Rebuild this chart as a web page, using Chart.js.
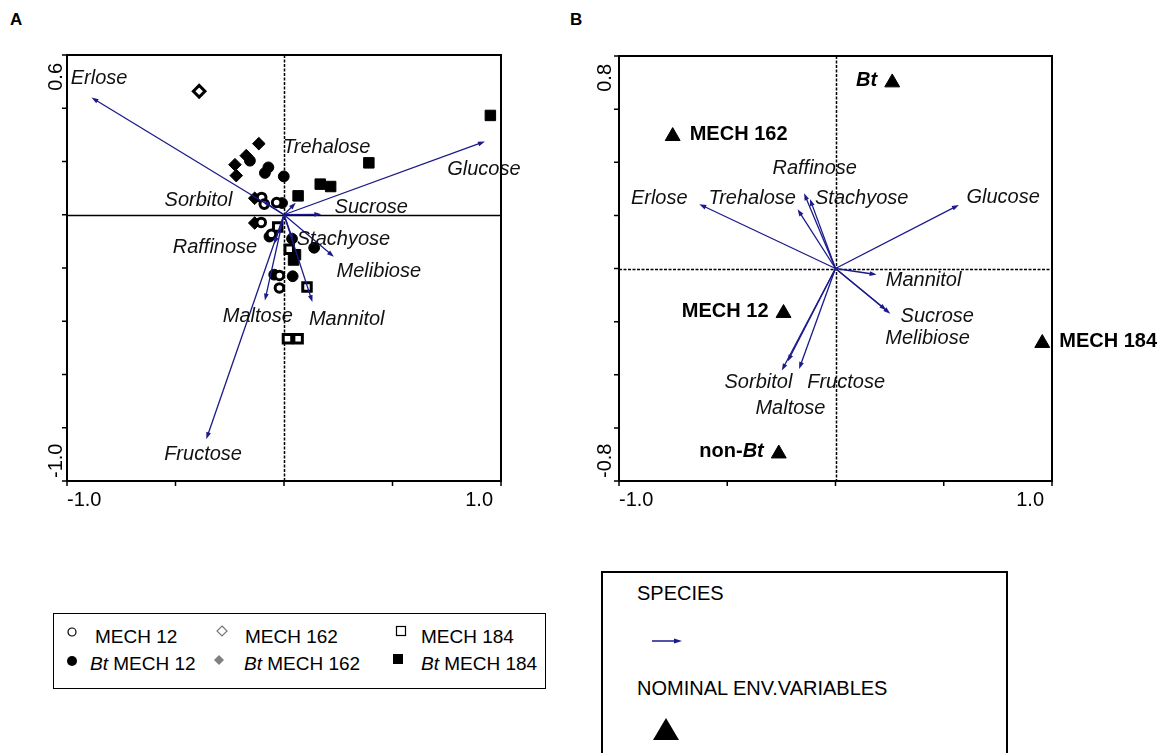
<!DOCTYPE html>
<html>
<head>
<meta charset="utf-8">
<script src="https://cdn.jsdelivr.net/npm/chart.js@4.4.1/dist/chart.umd.min.js"></script>
<style>
  html, body { margin: 0; padding: 0; background: #fff; }
  body { width: 1173px; height: 753px; position: relative; overflow: hidden;
         font-family: "Liberation Sans", Arial, sans-serif; color: #000; }
  .panel-tag { position: absolute; font-weight: bold; font-size: 17px; line-height: 20px; }
  .chart-wrap { position: absolute; }
  .chart-wrap canvas { display: block; }
  .legend-box { position: absolute; box-sizing: border-box; border: 1px solid #000; background: #fff; }
  .leg-item { position: absolute; white-space: nowrap; font-size: 19px; line-height: 22px; }
  .leg-sym { position: absolute; }
  .legend-b { border-width: 2px; }
  .legb-text { position: absolute; white-space: nowrap; font-size: 20px; line-height: 24px; }
</style>
</head>
<body>

<div class="panel-tag" style="left:10px; top:10px;">A</div>
<div class="panel-tag" style="left:570px; top:10px;">B</div>

<div class="chart-wrap" style="left:0; top:0; width:580px; height:540px;">
  <canvas id="chartA" width="580" height="540"></canvas>
</div>
<div class="chart-wrap" style="left:580px; top:0; width:593px; height:540px;">
  <canvas id="chartB" width="593" height="540"></canvas>
</div>

<!-- Legend for the sample symbols -->
<div class="legend-box" style="left:53px; top:613px; width:493px; height:76px;"></div>
<svg class="leg-sym" style="left:66px; top:626px;" width="12" height="12"><circle cx="6" cy="6" r="4" fill="#fff" stroke="#000" stroke-width="1.2"/></svg>
<div class="leg-item" style="left:95px; top:626px;">MECH 12</div>
<svg class="leg-sym" style="left:216px; top:625px;" width="12" height="12"><polygon points="6,1 11,6 6,11 1,6" fill="#fff" stroke="#777" stroke-width="1.2"/></svg>
<div class="leg-item" style="left:245px; top:626px;">MECH 162</div>
<svg class="leg-sym" style="left:395px; top:625px;" width="12" height="12"><rect x="1.5" y="1.5" width="9" height="9" fill="#fff" stroke="#000" stroke-width="1.2"/></svg>
<div class="leg-item" style="left:421px; top:626px;">MECH 184</div>

<svg class="leg-sym" style="left:66px; top:655px;" width="12" height="12"><circle cx="6" cy="6" r="5" fill="#000"/></svg>
<div class="leg-item" style="left:90px; top:653px;"><i>Bt</i> MECH 12</div>
<svg class="leg-sym" style="left:213px; top:654px;" width="12" height="12"><polygon points="6,1 11,6 6,11 1,6" fill="#808080"/></svg>
<div class="leg-item" style="left:244px; top:653px;"><i>Bt</i> MECH 162</div>
<svg class="leg-sym" style="left:392px; top:653px;" width="12" height="12"><rect x="1" y="1" width="10" height="10" fill="#000"/></svg>
<div class="leg-item" style="left:421px; top:653px;"><i>Bt</i> MECH 184</div>

<!-- Legend for the ordination diagram symbols -->
<div class="legend-box legend-b" style="left:601px; top:571px; width:407px; height:200px;"></div>
<div class="legb-text" style="left:637px; top:581px;">SPECIES</div>
<svg class="leg-sym" style="left:650px; top:635px;" width="34" height="12">
  <line x1="2" y1="6" x2="26" y2="6" stroke="#1a1a8a" stroke-width="1.5"/>
  <polygon points="32,6 24,3.5 24,8.5" fill="#1a1a8a"/>
</svg>
<div class="legb-text" style="left:637px; top:676px;">NOMINAL ENV.VARIABLES</div>
<svg class="leg-sym" style="left:652px; top:717px;" width="28" height="25"><polygon points="14,1 27,23 1,23" fill="#000"/></svg>

<script>
// ---------- axes ----------
const xLimits = [-1.0, 1.0];
const yLimitsA = [-1.0, 0.6];
const yLimitsB = [-0.8, 0.8];
const xTicks = [-1.0, -0.5, 0, 0.5, 1.0];
const yTicksA = [-1.0, -0.8, -0.6, -0.4, -0.2, 0, 0.2, 0.4, 0.6];
const yTicksB = [-0.8, -0.6, -0.4, -0.2, 0, 0.2, 0.4, 0.6, 0.8];
const xTickLabels = ['-1.0', '1.0'];
const yTickLabelsA = ['-1.0', '0.6'];
const yTickLabelsB = ['-0.8', '0.8'];

// ---------- panel A: sample scores ----------
const mech12X = [-0.103, -0.091, -0.034, -0.105, -0.058, -0.021, -0.021];
const mech12Y = [0.065, 0.040, 0.046, -0.029, -0.073, -0.228, -0.275];
const bt12X = [-0.157, -0.072, -0.088, -0.001, 0.139, 0.040, -0.045, -0.009, -0.067, 0.037];
const bt12Y = [0.203, 0.178, 0.157, 0.144, -0.124, -0.231, -0.225, 0.044, -0.082, -0.090];
const mech162X = [-0.391];
const mech162Y = [0.464];
const bt162X = [-0.116, -0.174, -0.226, -0.220, -0.135, -0.135];
const bt162Y = [0.267, 0.222, 0.188, 0.147, 0.062, -0.031];
const mech184X = [-0.029, 0.024, 0.106, 0.016, 0.065];
const mech184Y = [-0.046, -0.130, -0.271, -0.466, -0.466];
const bt184X = [0.951, 0.391, 0.167, 0.215, 0.065, 0.044, 0.053];
const bt184Y = [0.373, 0.195, 0.115, 0.106, 0.071, -0.170, -0.150];

// ---------- panel A: species arrows ----------
const speciesA = ['Erlose', 'Trehalose', 'Glucose', 'Sorbitol', 'Sucrose', 'Stachyose',
                  'Raffinose', 'Melibiose', 'Maltose', 'Mannitol', 'Fructose'];
const arrowAX = [-0.887, 0.054, 0.926, -0.098, 0.172, 0.041, -0.045, 0.230, -0.088, 0.131, -0.358];
const arrowAY = [0.440, 0.045, 0.275, 0.053, 0.002, -0.094, -0.110, -0.158, -0.322, -0.328, -0.843];
const labelAX = [-0.852, 0.197, 0.921, -0.394, 0.402, 0.274, -0.318, 0.437, -0.121, 0.289, -0.373];
const labelAY = [0.512, 0.251, 0.172, 0.052, 0.027, -0.092, -0.124, -0.212, -0.382, -0.395, -0.900];

// ---------- panel B: species arrows ----------
const speciesB = ['Erlose', 'Trehalose', 'Raffinose', 'Stachyose', 'Glucose', 'Mannitol',
                  'Sucrose', 'Melibiose', 'Sorbitol', 'Fructose', 'Maltose'];
const arrowBX = [-0.629, -0.175, -0.145, -0.118, 0.570, 0.190, 0.253, 0.235, -0.248, -0.168, -0.221];
const arrowBY = [0.242, 0.223, 0.283, 0.262, 0.239, -0.023, -0.170, -0.157, -0.384, -0.378, -0.350];
const labelBX = [-0.814, -0.385, -0.096, 0.121, 0.774, 0.407, 0.470, 0.425, -0.356, 0.049, -0.208];
const labelBY = [0.265, 0.265, 0.378, 0.265, 0.269, -0.044, -0.180, -0.265, -0.428, -0.428, -0.525];

// ---------- panel B: nominal environmental variables ----------
const envNames = ['Bt', 'MECH 162', 'MECH 12', 'MECH 184', 'non-Bt'];
const envX = [0.262, -0.752, -0.240, 0.955, -0.262];
const envY = [0.700, 0.498, -0.168, -0.281, -0.697];
const envSide = ['left', 'right', 'left', 'right', 'left'];
// label pieces: [text, italic]
const envParts = [
  [['Bt', true]],
  [['MECH 162', false]],
  [['MECH 12', false]],
  [['MECH 184', false]],
  [['non-', false], ['Bt', true]]
];

const ARROW = '#1a1a8a';
const FONT = '"Liberation Sans", Arial, sans-serif';

function pts(xs, ys) { return xs.map((x, i) => ({ x, y: ys[i] })); }

function drawArrow(ctx, x0, y0, x1, y1) {
  const ang = Math.atan2(y1 - y0, x1 - x0);
  const len = 7, half = 2.4;
  ctx.beginPath();
  ctx.moveTo(x0, y0);
  ctx.lineTo(x1 - Math.cos(ang) * len * 0.6, y1 - Math.sin(ang) * len * 0.6);
  ctx.stroke();
  ctx.beginPath();
  ctx.moveTo(x1, y1);
  ctx.lineTo(x1 - Math.cos(ang) * len + Math.sin(ang) * half, y1 - Math.sin(ang) * len - Math.cos(ang) * half);
  ctx.lineTo(x1 - Math.cos(ang) * len - Math.sin(ang) * half, y1 - Math.sin(ang) * len + Math.cos(ang) * half);
  ctx.closePath();
  ctx.fill();
}

function biplot(opts) {
  return {
    id: 'biplot',
    beforeDatasetsDraw(chart) {
      const { ctx, chartArea: a, scales: { x, y } } = chart;
      const x0 = Math.round(x.getPixelForValue(0)) + 0.5;
      const y0 = Math.round(y.getPixelForValue(0)) + 0.5;
      ctx.save();
      ctx.strokeStyle = '#000';
      ctx.lineWidth = 1.5;
      ctx.setLineDash(opts.hDash);
      ctx.beginPath(); ctx.moveTo(a.left, y0); ctx.lineTo(a.right, y0); ctx.stroke();
      ctx.setLineDash(opts.vDash);
      ctx.beginPath(); ctx.moveTo(x0, a.top); ctx.lineTo(x0, a.bottom); ctx.stroke();
      ctx.restore();
    },
    afterDatasetsDraw(chart) {
      const { ctx, chartArea: a, scales: { x, y } } = chart;
      const ox = x.getPixelForValue(0), oy = y.getPixelForValue(0);
      ctx.save();
      // species arrows
      ctx.strokeStyle = ARROW; ctx.fillStyle = ARROW; ctx.lineWidth = 1.3;
      opts.ax.forEach((vx, i) => {
        drawArrow(ctx, ox, oy, x.getPixelForValue(vx), y.getPixelForValue(opts.ay[i]));
      });
      // species names
      ctx.fillStyle = '#111';
      ctx.font = 'italic 20px ' + FONT;
      ctx.textAlign = 'center'; ctx.textBaseline = 'middle';
      opts.names.forEach((n, i) => {
        ctx.fillText(n, x.getPixelForValue(opts.lx[i]), y.getPixelForValue(opts.ly[i]));
      });
      // nominal variable names
      if (opts.env) {
        ctx.fillStyle = '#000';
        ctx.textBaseline = 'middle'; ctx.textAlign = 'left';
        opts.env.parts.forEach((parts, i) => {
          const px = x.getPixelForValue(opts.env.x[i]);
          const py = y.getPixelForValue(opts.env.y[i]) - 2;
          const widths = parts.map(([t, it]) => {
            ctx.font = (it ? 'italic ' : '') + 'bold 20px ' + FONT;
            return ctx.measureText(t).width;
          });
          const total = widths.reduce((s, w) => s + w, 0);
          let cx = opts.env.side[i] === 'left' ? px - 15 - total : px + 17;
          parts.forEach(([t, it], k) => {
            ctx.font = (it ? 'italic ' : '') + 'bold 20px ' + FONT;
            ctx.fillText(t, cx, py);
            cx += widths[k];
          });
        });
      }
      // frame and tick marks
      ctx.strokeStyle = '#000'; ctx.lineWidth = 2; ctx.setLineDash([]);
      ctx.strokeRect(a.left, a.top, a.right - a.left, a.bottom - a.top);
      ctx.lineWidth = 1.5;
      ctx.beginPath();
      xTicks.forEach(v => { const px = x.getPixelForValue(v); ctx.moveTo(px, a.bottom); ctx.lineTo(px, a.bottom + 5); });
      opts.yTicks.forEach(v => { const py = y.getPixelForValue(v); ctx.moveTo(a.left - 5, py); ctx.lineTo(a.left, py); });
      ctx.stroke();
      // tick labels at the axis ends
      ctx.fillStyle = '#000';
      ctx.font = '20px ' + FONT;
      ctx.textBaseline = 'middle';
      ctx.textAlign = 'left';
      ctx.fillText(xTickLabels[0], x.getPixelForValue(xLimits[0]), a.bottom + 19);
      ctx.textAlign = 'right';
      ctx.fillText(xTickLabels[1], x.getPixelForValue(xLimits[1]) - 8, a.bottom + 19);
      const yl = opts.yLabelX;
      ctx.save();
      ctx.translate(a.left - yl, y.getPixelForValue(opts.yLimits[1]) + 8);
      ctx.rotate(-Math.PI / 2);
      ctx.textAlign = 'right';
      ctx.fillText(opts.yLabels[1], 0, 0);
      ctx.restore();
      ctx.save();
      ctx.translate(a.left - yl, y.getPixelForValue(opts.yLimits[0]) - 3);
      ctx.rotate(-Math.PI / 2);
      ctx.textAlign = 'left';
      ctx.fillText(opts.yLabels[0], 0, 0);
      ctx.restore();
      ctx.restore();
    }
  };
}

function scales(yLim) {
  return {
    x: { type: 'linear', min: xLimits[0], max: xLimits[1], display: false },
    y: { type: 'linear', min: yLim[0], max: yLim[1], display: false }
  };
}

const baseOptions = {
  responsive: false,
  animation: false,
  devicePixelRatio: 1,
  plugins: { legend: { display: false }, tooltip: { enabled: false } },
  events: []
};

function sampleSet(xs, ys, style, filled, r, bw) {
  return {
    data: pts(xs, ys), pointStyle: style, pointRadius: r,
    pointBackgroundColor: filled ? '#000' : '#fff', pointBorderColor: '#000',
    pointBorderWidth: bw, showLine: false, clip: false
  };
}

new Chart(document.getElementById('chartA'), {
  type: 'scatter',
  data: {
    datasets: [
      sampleSet(mech12X, mech12Y, 'circle', false, 4.3, 3),
      sampleSet(bt12X, bt12Y, 'circle', true, 5.4, 1),
      sampleSet(mech162X, mech162Y, 'rectRot', false, 5.8, 3),
      sampleSet(bt162X, bt162Y, 'rectRot', true, 6.3, 1),
      sampleSet(mech184X, mech184Y, 'rect', false, 6, 3),
      sampleSet(bt184X, bt184Y, 'rect', true, 7.4, 1)
    ]
  },
  options: Object.assign({}, baseOptions, {
    layout: { padding: { left: 67, top: 55, right: 79, bottom: 59 } },
    scales: scales(yLimitsA)
  }),
  plugins: [biplot({
    ax: arrowAX, ay: arrowAY, names: speciesA, lx: labelAX, ly: labelAY,
    yTicks: yTicksA, yLimits: yLimitsA, yLabels: yTickLabelsA, yLabelX: 11,
    hDash: [], vDash: [3, 1.5]
  })]
});

new Chart(document.getElementById('chartB'), {
  type: 'scatter',
  data: {
    datasets: [{
      data: pts(envX, envY), pointStyle: 'triangle', pointRadius: 8.6,
      pointBackgroundColor: '#000', pointBorderColor: '#000', pointBorderWidth: 1,
      showLine: false, clip: false
    }]
  },
  options: Object.assign({}, baseOptions, {
    layout: { padding: { left: 39, top: 56, right: 121, bottom: 59 } },
    scales: scales(yLimitsB)
  }),
  plugins: [biplot({
    ax: arrowBX, ay: arrowBY, names: speciesB, lx: labelBX, ly: labelBY,
    yTicks: yTicksB, yLimits: yLimitsB, yLabels: yTickLabelsB, yLabelX: 14,
    hDash: [3, 1.5], vDash: [3, 1.5],
    env: { x: envX, y: envY, side: envSide, parts: envParts }
  })]
});
</script>
</body>
</html>
